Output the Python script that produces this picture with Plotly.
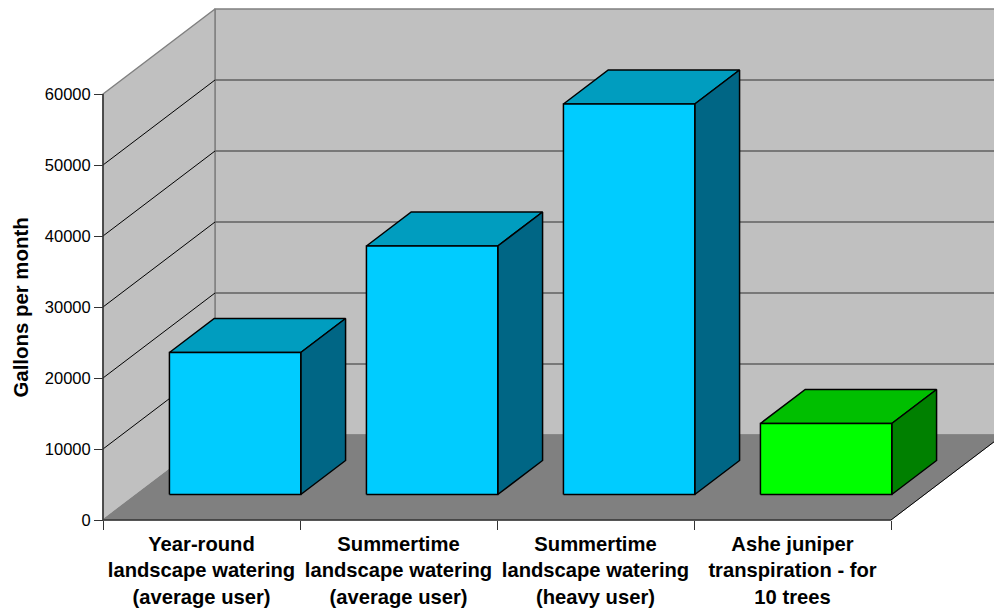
import plotly.graph_objects as go

# Water use per month, in gallons
categories = [
    "Year-round<br>landscape watering<br>(average user)",
    "Summertime<br>landscape watering<br>(average user)",
    "Summertime<br>landscape watering<br>(heavy user)",
    "Ashe juniper<br>transpiration - for<br>10 trees",
]
gallons = [20000, 35000, 55000, 10000]
front_colors = ["#00CCFF", "#00CCFF", "#00CCFF", "#00FF00"]
top_colors = ["#009DBF", "#009DBF", "#009DBF", "#00BF00"]
side_colors = ["#006685", "#006685", "#006685", "#008000"]
y_ticks = [0, 10000, 20000, 30000, 40000, 50000, 60000]
y_title = "Gallons per month"

WIDTH, HEIGHT = 994, 608
AXIS_LEFT, AXIS_RIGHT, AXIS_TOP, AXIS_BOTTOM = 103, 891, 94, 520
Y_MAX = 60000
N = len(categories)
FONT = "Liberation Sans, Arial, sans-serif"

# The axes cover the whole page so the walls behind the front plane stay visible
PX_PER_CAT = (AXIS_RIGHT - AXIS_LEFT) / N
PX_PER_VALUE = (AXIS_BOTTOM - AXIS_TOP) / Y_MAX
x_range = [-AXIS_LEFT / PX_PER_CAT, (WIDTH - AXIS_LEFT) / PX_PER_CAT]
y_range = [(AXIS_BOTTOM - HEIGHT) / PX_PER_VALUE, AXIS_BOTTOM / PX_PER_VALUE]

# Oblique projection: a unit of depth shifts a point right and up, in axis units
SHIFT_X = 112 / PX_PER_CAT
SHIFT_Y = 85 / PX_PER_VALUE
BAR_WIDTH = 2 / 3
DEPTH_FRONT, DEPTH_BACK = 0.3, 0.7


def project(x, y, depth):
    return x + SHIFT_X * depth, y + SHIFT_Y * depth


def polygon(corners, fill, line_color, line_width):
    pts = [project(*c) for c in corners]
    pts.append(pts[0])
    return go.Scatter(
        x=[p[0] for p in pts], y=[p[1] for p in pts],
        mode="lines", fill="toself", fillcolor=fill,
        line=dict(color=line_color, width=line_width),
        hoverinfo="skip", showlegend=False,
    )


def segment(start, end, color, width):
    pts = [project(*start), project(*end)]
    return go.Scatter(
        x=[p[0] for p in pts], y=[p[1] for p in pts],
        mode="lines", line=dict(color=color, width=width),
        hoverinfo="skip", showlegend=False,
    )


fig = go.Figure()

# Walls and floor
fig.add_trace(polygon([(0, 0, 1), (N, 0, 1), (N, Y_MAX, 1), (0, Y_MAX, 1)], "#C0C0C0", "#808080", 1.5))
fig.add_trace(polygon([(0, 0, 0), (0, 0, 1), (0, Y_MAX, 1), (0, Y_MAX, 0)], "#C0C0C0", "#808080", 1.5))
for value in y_ticks[1:-1]:
    fig.add_trace(segment((0, value, 1), (N, value, 1), "#606060", 1.5))
    fig.add_trace(segment((0, value, 0), (0, value, 1), "#000000", 1))
fig.add_trace(polygon([(0, 0, 0), (N, 0, 0), (N, 0, 1), (0, 0, 1)], "#808080", "#808080", 1))
fig.add_trace(segment((N, 0, 0), (N, 0, 1), "#000000", 1))

# Bars, each one a front face, a top and a right side
for i, value in enumerate(gallons):
    left = i + (1 - BAR_WIDTH) / 2
    right = left + BAR_WIDTH
    fig.add_trace(polygon(
        [(left, value, DEPTH_FRONT), (right, value, DEPTH_FRONT),
         (right, value, DEPTH_BACK), (left, value, DEPTH_BACK)],
        top_colors[i], "#000000", 1.5))
    fig.add_trace(polygon(
        [(right, 0, DEPTH_FRONT), (right, 0, DEPTH_BACK),
         (right, value, DEPTH_BACK), (right, value, DEPTH_FRONT)],
        side_colors[i], "#000000", 1.5))
    fig.add_trace(polygon(
        [(left, 0, DEPTH_FRONT), (right, 0, DEPTH_FRONT),
         (right, value, DEPTH_FRONT), (left, value, DEPTH_FRONT)],
        front_colors[i], "#000000", 1.5))

# Front edges of the frame
fig.add_trace(segment((0, 0, 0), (N, 0, 0), "#333333", 1.5))
fig.add_trace(segment((0, 0, 0), (0, Y_MAX, 0), "#333333", 1.5))

fig.update_layout(
    width=WIDTH, height=HEIGHT,
    margin=dict(l=0, r=0, t=0, b=0, pad=0),
    paper_bgcolor="#FFFFFF", plot_bgcolor="rgba(0,0,0,0)",
    showlegend=False,
    font=dict(family=FONT, color="#000000"),
    xaxis=dict(
        range=x_range, showgrid=False, zeroline=False, fixedrange=True,
        showline=False, automargin=False,
        anchor="free", position=(HEIGHT - AXIS_BOTTOM) / HEIGHT,
        tickmode="array", tickvals=[i + 0.5 for i in range(N)], ticktext=categories,
        ticks="", ticklabelstandoff=10,
        tickfont=dict(size=20.2, family=FONT, weight="bold"),
        minor=dict(tickmode="array", tickvals=list(range(N + 1)), ticks="outside",
                   ticklen=9, tickwidth=1, tickcolor="#333333", showgrid=False),
    ),
    yaxis=dict(
        range=y_range, showgrid=False, zeroline=False, fixedrange=True,
        showline=False, automargin=False,
        anchor="free", position=AXIS_LEFT / WIDTH,
        tickmode="array", tickvals=y_ticks, ticktext=[str(t) for t in y_ticks],
        ticks="outside", ticklen=9, tickwidth=1, tickcolor="#333333",
        tickfont=dict(size=16.5, family=FONT),
    ),
    annotations=[dict(
        text=y_title, textangle=-90, showarrow=False,
        xref="paper", yref="paper", x=20 / WIDTH, y=1 - 307.5 / HEIGHT,
        xanchor="center", yanchor="middle",
        font=dict(size=20.4, family=FONT, weight="bold"),
    )],
)

fig.write_html("out.html", config=dict(displayModeBar=False))
